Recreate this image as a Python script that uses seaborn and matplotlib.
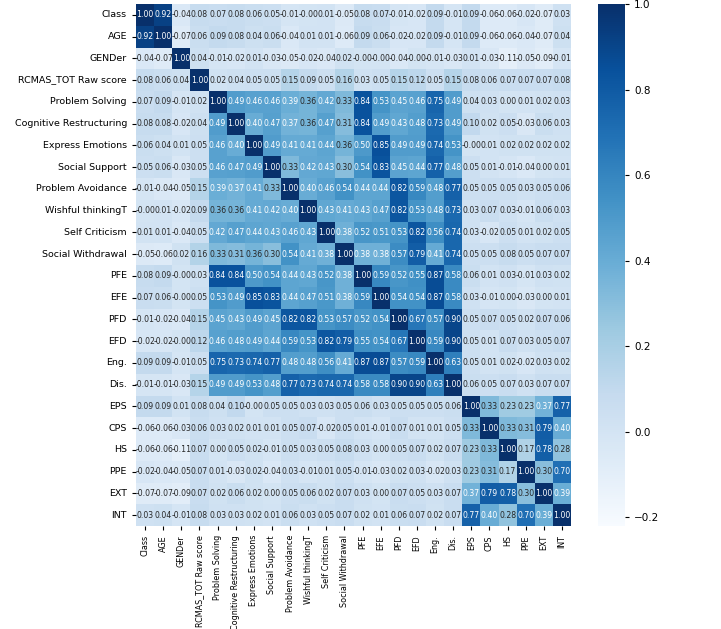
import numpy as np
import pandas as pd
import seaborn as sns
import matplotlib
matplotlib.use("Agg")
import matplotlib.pyplot as plt

labels = ["Class", "AGE", "GENDer", "RCMAS_TOT Raw score", "Problem Solving",
          "Cognitive Restructuring", "Express Emotions", "Social Support",
          "Problem Avoidance", "Wishful thinkingT", "Self Criticism",
          "Social Withdrawal", "PFE", "EFE", "PFD", "EFD", "Eng.", "Dis.",
          "EPS", "CPS", "HS", "PPE", "EXT", "INT"]

r_class = [1.00, 0.92, -0.04, 0.08, 0.07, 0.08, 0.06, 0.05, -0.01, -0.00, 0.01, -0.05, 0.08, 0.07, -0.01, -0.02, 0.09, -0.01, 0.09, -0.06, -0.06, -0.02, -0.07, 0.03]
r_age = [0.92, 1.00, -0.07, 0.06, 0.09, 0.08, 0.04, 0.06, -0.04, 0.01, 0.01, -0.06, 0.09, 0.06, -0.02, -0.02, 0.09, -0.01, 0.09, -0.06, -0.06, -0.04, -0.07, 0.04]
r_gender = [-0.04, -0.07, 1.00, 0.04, -0.01, -0.02, 0.01, -0.03, -0.05, -0.02, -0.04, 0.02, -0.00, -0.00, -0.04, -0.00, -0.01, -0.03, 0.01, -0.03, -0.11, -0.05, -0.09, -0.01]
r_rcmas = [0.08, 0.06, 0.04, 1.00, 0.02, 0.04, 0.05, 0.05, 0.15, 0.09, 0.05, 0.16, 0.03, 0.05, 0.15, 0.12, 0.05, 0.15, 0.08, 0.06, 0.07, 0.07, 0.07, 0.08]
r_ps = [0.07, 0.09, -0.01, 0.02, 1.00, 0.49, 0.46, 0.46, 0.39, 0.36, 0.42, 0.33, 0.84, 0.53, 0.45, 0.46, 0.75, 0.49, 0.04, 0.03, 0.00, 0.01, 0.02, 0.03]
r_cr = [0.08, 0.08, -0.02, 0.04, 0.49, 1.00, 0.40, 0.47, 0.37, 0.36, 0.47, 0.31, 0.84, 0.49, 0.43, 0.48, 0.73, 0.49, 0.10, 0.02, 0.05, -0.03, 0.06, 0.03]
r_ee = [0.06, 0.04, 0.01, 0.05, 0.46, 0.40, 1.00, 0.49, 0.41, 0.41, 0.44, 0.36, 0.50, 0.85, 0.49, 0.49, 0.74, 0.53, -0.00, 0.01, 0.02, 0.02, 0.02, 0.02]
r_ss = [0.05, 0.06, -0.03, 0.05, 0.46, 0.47, 0.49, 1.00, 0.33, 0.42, 0.43, 0.30, 0.54, 0.83, 0.45, 0.44, 0.77, 0.48, 0.05, 0.01, -0.01, -0.04, 0.00, 0.01]
r_pa = [-0.01, -0.04, -0.05, 0.15, 0.39, 0.37, 0.41, 0.33, 1.00, 0.40, 0.46, 0.54, 0.44, 0.44, 0.82, 0.59, 0.48, 0.77, 0.05, 0.05, 0.05, 0.03, 0.05, 0.06]
r_wt = [-0.00, 0.01, -0.02, 0.09, 0.36, 0.36, 0.41, 0.42, 0.40, 1.00, 0.43, 0.41, 0.43, 0.47, 0.82, 0.53, 0.48, 0.73, 0.03, 0.07, 0.03, -0.01, 0.06, 0.03]
r_sc = [0.01, 0.01, -0.04, 0.05, 0.42, 0.47, 0.44, 0.43, 0.46, 0.43, 1.00, 0.38, 0.52, 0.51, 0.53, 0.82, 0.56, 0.74, 0.03, -0.02, 0.05, 0.01, 0.02, 0.05]
r_sw = [-0.05, -0.06, 0.02, 0.16, 0.33, 0.31, 0.36, 0.30, 0.54, 0.41, 0.38, 1.00, 0.38, 0.38, 0.57, 0.79, 0.41, 0.74, 0.05, 0.05, 0.08, 0.05, 0.07, 0.07]
r_pfe = [0.08, 0.09, -0.00, 0.03, 0.84, 0.84, 0.50, 0.54, 0.44, 0.43, 0.52, 0.38, 1.00, 0.59, 0.52, 0.55, 0.87, 0.58, 0.06, 0.01, 0.03, -0.01, 0.03, 0.02]
r_efe = [0.07, 0.06, -0.00, 0.05, 0.53, 0.49, 0.85, 0.83, 0.44, 0.47, 0.51, 0.38, 0.59, 1.00, 0.54, 0.54, 0.87, 0.58, 0.03, -0.01, 0.00, -0.03, 0.00, 0.01]
r_pfd = [-0.01, -0.02, -0.04, 0.15, 0.45, 0.43, 0.49, 0.45, 0.82, 0.82, 0.53, 0.57, 0.52, 0.54, 1.00, 0.67, 0.57, 0.90, 0.05, 0.07, 0.05, 0.02, 0.07, 0.06]
r_efd = [-0.02, -0.02, -0.00, 0.12, 0.46, 0.48, 0.49, 0.44, 0.59, 0.53, 0.82, 0.79, 0.55, 0.54, 0.67, 1.00, 0.59, 0.90, 0.05, 0.01, 0.07, 0.03, 0.05, 0.07]
r_eng = [0.09, 0.09, -0.01, 0.05, 0.75, 0.73, 0.74, 0.77, 0.48, 0.48, 0.56, 0.41, 0.87, 0.87, 0.57, 0.59, 1.00, 0.63, 0.05, 0.01, 0.02, -0.02, 0.03, 0.02]
r_dis = [-0.01, -0.01, -0.03, 0.15, 0.49, 0.49, 0.53, 0.48, 0.77, 0.73, 0.74, 0.74, 0.58, 0.58, 0.90, 0.90, 0.63, 1.00, 0.06, 0.05, 0.07, 0.03, 0.07, 0.07]
r_eps = [0.09, 0.09, 0.01, 0.08, 0.04, 0.10, -0.00, 0.05, 0.05, 0.03, 0.03, 0.05, 0.06, 0.03, 0.05, 0.05, 0.05, 0.06, 1.00, 0.33, 0.23, 0.23, 0.37, 0.77]
r_cps = [-0.06, -0.06, -0.03, 0.06, 0.03, 0.02, 0.01, 0.01, 0.05, 0.07, -0.02, 0.05, 0.01, -0.01, 0.07, 0.01, 0.01, 0.05, 0.33, 1.00, 0.33, 0.31, 0.79, 0.40]
r_hs = [-0.06, -0.06, -0.11, 0.07, 0.00, 0.05, 0.02, -0.01, 0.05, 0.03, 0.05, 0.08, 0.03, 0.00, 0.05, 0.07, 0.02, 0.07, 0.23, 0.33, 1.00, 0.17, 0.78, 0.28]
r_ppe = [-0.02, -0.04, -0.05, 0.07, 0.01, -0.03, 0.02, -0.04, 0.03, -0.01, 0.01, 0.05, -0.01, -0.03, 0.02, 0.03, -0.02, 0.03, 0.23, 0.31, 0.17, 1.00, 0.30, 0.70]
r_ext = [-0.07, -0.07, -0.09, 0.07, 0.02, 0.06, 0.02, 0.00, 0.05, 0.06, 0.02, 0.07, 0.03, 0.00, 0.07, 0.05, 0.03, 0.07, 0.37, 0.79, 0.78, 0.30, 1.00, 0.39]
r_int = [0.03, 0.04, -0.01, 0.08, 0.03, 0.03, 0.02, 0.01, 0.06, 0.03, 0.05, 0.07, 0.02, 0.01, 0.06, 0.07, 0.02, 0.07, 0.77, 0.40, 0.28, 0.70, 0.39, 1.00]

rows = [r_class, r_age, r_gender, r_rcmas, r_ps, r_cr, r_ee, r_ss, r_pa, r_wt,
        r_sc, r_sw, r_pfe, r_efe, r_pfd, r_efd, r_eng, r_dis, r_eps, r_cps,
        r_hs, r_ppe, r_ext, r_int]

corr = pd.DataFrame(rows, index=labels, columns=labels)

fig = plt.figure(figsize=(7.21, 6.29), dpi=100)
ax = fig.add_axes([136/721, 1 - 526/629, 435/721, 522/629])
cax = fig.add_axes([598/721, 1 - 526/629, 27/721, 522/629])

sns.heatmap(corr, ax=ax, cbar_ax=cax, cmap="Blues", annot=True, fmt=".2f",
            vmin=-0.22, vmax=1.0, annot_kws={"size": 5.6})

ax.tick_params(axis="y", labelsize=6.8, length=3, width=0.8)
ax.tick_params(axis="x", labelsize=5.8, length=3, width=0.8)
plt.setp(ax.get_xticklabels(), rotation=90)
plt.setp(ax.get_yticklabels(), rotation=0)
cax.tick_params(labelsize=7.5, length=3)
cax.yaxis.set_ticks([-0.2, 0.0, 0.2, 0.4, 0.6, 0.8, 1.0])

fig.savefig("out.png", dpi=100)
